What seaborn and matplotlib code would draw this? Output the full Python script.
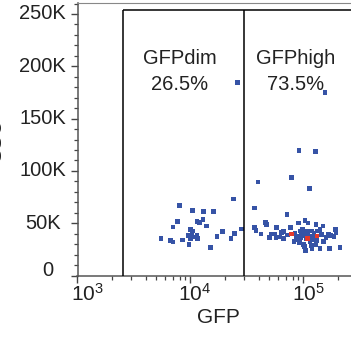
import numpy as np
import pandas as pd
import matplotlib
matplotlib.use("Agg")
import matplotlib.pyplot as plt
import matplotlib.ticker as mticker
import matplotlib.transforms as mtrans
import seaborn as sns

# ---------------- data ----------------
dim_gfp = [23900, 7960, 10400, 13100, 16000, 7670, 11400, 11960, 12900, 7000,
           13900, 10000, 10400, 19300, 28400, 24500, 5480, 6650, 7000, 8450,
           9570, 10300, 11400, 10000, 11600, 10800, 17200, 22800, 9700, 15100,
           26200]
dim_ssc = [73100, 66700, 61900, 61000, 61000, 51400, 51400, 50500, 53300, 46200,
           47300, 44000, 42400, 42100, 44500, 39900, 35100, 33200, 32000, 33900,
           38000, 38000, 38000, 35200, 35200, 36800, 37100, 35100, 29400, 26600,
           184300]

high_gfp = [155000, 91200, 127000, 39500, 78000, 113500, 37000, 71400, 46200, 46900,
            90800, 103000, 109600, 129000, 149000, 37000, 38000, 42100, 57400, 77100,
            193000, 194000, 51500, 49800, 64100, 61900, 66800, 57100, 71900, 56000,
            66200, 93100, 98400, 106700, 118200, 140000, 133700, 87100, 93800, 101000,
            120500, 145000, 166000, 174000, 158000, 186000, 82400, 91900, 99500, 114000,
            131000, 150000, 102000, 117000, 129000, 140000, 169000, 210000, 119000, 104000,
            84000, 96000, 110000, 124000, 105000, 125000, 88000]
high_ssc = [174800, 119300, 118400, 89400, 93500, 83200, 64700, 58600, 50900, 48900,
            50200, 52400, 50200, 48900, 47300, 46100, 42800, 39700, 46100, 46100,
            43800, 41300, 39700, 36100, 40900, 36800, 35600, 36100, 38700, 39700,
            41900, 42500, 43800, 42500, 42500, 44200, 42500, 37500, 36100, 38000,
            37500, 39400, 39400, 38000, 36100, 37100, 32300, 31400, 29800, 32300,
            33300, 32300, 27500, 28500, 29200, 26000, 26000, 26600, 26000, 24000,
            40500, 40000, 40000, 40000, 35000, 34500, 34500]

red_gfp = [78700, 109000, 132000]
red_ssc = [39700, 35200, 37800]

gate_x = [2530, 29700]        # gate boundaries (GFP)
gate_top = 253800             # gate top (SSC)
gate_names = ["GFPdim", "GFPhigh"]
gate_pcts = ["26.5%", "73.5%"]

xticks = [1e3, 1e4, 1e5]
xtick_labels = [r"$\mathregular{10^{3}}$", r"$\mathregular{10^{4}}$", r"$\mathregular{10^{5}}$"]
yticks = [0, 50000, 100000, 150000, 200000, 250000]
ytick_labels = ["0", "50K", "100K", "150K", "200K", "250K"]

# ---------------- style ----------------
sns.set_theme(style="ticks")
plt.rcParams["font.family"] = ["Liberation Sans", "DejaVu Sans"]
plt.rcParams["mathtext.fontset"] = "custom"
plt.rcParams["mathtext.rm"] = "Liberation Sans"
plt.rcParams["mathtext.it"] = "Liberation Sans:italic"

W, H = 351, 338
fig = plt.figure(figsize=(W / 100, H / 100), dpi=100)
ax = fig.add_axes([77.5 / W, (H - 275.5) / H, (360 - 77.5) / W, (275.5 - 3) / H])

df = pd.DataFrame({
    "GFP": dim_gfp + high_gfp + red_gfp,
    "SSC": dim_ssc + high_ssc + red_ssc,
    "pop": ["blue"] * (len(dim_gfp) + len(high_gfp)) + ["red"] * len(red_gfp),
})
sns.scatterplot(data=df, x="GFP", y="SSC", hue="pop",
                palette={"blue": "#3653a6", "red": "#e4392b"},
                marker="s", s=11, linewidth=0, legend=False, ax=ax, zorder=3)

ax.set_xscale("log")
ax.set_xlim(1e3, 10 ** 5.5)
ax.set_ylim(0, 260500)

# gates
ax.vlines(gate_x, 0, gate_top, color="black", lw=1.1, zorder=4)
ax.hlines(gate_top, gate_x[0], 1e7, color="black", lw=1.1, zorder=4)

# gate labels
for name, pct, cx in zip(gate_names, gate_pcts, [180, 296]):
    fig.text(cx / W, 1 - 64 / H, name, ha="center", va="baseline", fontsize=14.5, color="#222222")
    fig.text(cx / W, 1 - 90 / H, pct, ha="center", va="baseline", fontsize=14.5, color="#222222")

# ticks
ax.set_xticks(xticks)
ax.set_xticklabels(xtick_labels)
ax.xaxis.set_minor_locator(mticker.LogLocator(base=10, subs=np.arange(2, 10)))
ax.xaxis.set_minor_formatter(mticker.NullFormatter())
ax.set_yticks(yticks)
ax.set_yticklabels(ytick_labels)
ax.yaxis.set_minor_locator(mticker.MultipleLocator(10000))

ax.tick_params(axis="both", which="major", length=5, width=1.0, color="#444444",
               direction="out")
ax.tick_params(axis="both", which="minor", length=3, width=0.9, color="#444444",
               direction="out")
ax.tick_params(axis="x", which="major", labelsize=15, pad=0.5, labelcolor="#222222")
ax.tick_params(axis="y", which="major", labelsize=14.5, pad=20, labelcolor="#222222")

for lab in ax.get_yticklabels():
    lab.set_ha("center")
offs_y = {"0": (5, 7)}
for lab in ax.get_yticklabels():
    dx, dy = offs_y.get(lab.get_text(), (0, 2))
    lab.set_transform(lab.get_transform() + mtrans.ScaledTranslation(dx / 100, dy / 100, fig.dpi_scale_trans))
for i, lab in enumerate(ax.get_xticklabels()):
    dx = 10 if i == 0 else 4.5
    lab.set_transform(lab.get_transform() + mtrans.ScaledTranslation(dx / 100, 0, fig.dpi_scale_trans))

for side in ["left", "bottom"]:
    ax.spines[side].set_color("#555555")
    ax.spines[side].set_linewidth(1.1)
ax.spines["top"].set_color("#888888")
ax.spines["top"].set_linewidth(0.8)
ax.spines["right"].set_visible(False)

ax.set_xlabel("GFP", fontsize=15, color="#222222", labelpad=2)
ax.set_ylabel("")
fig.text(5 / W, 1 - 140 / H, "SSC", rotation=90, ha="right", va="center",
         fontsize=15, color="#222222")

fig.savefig("out.png", dpi=100)
